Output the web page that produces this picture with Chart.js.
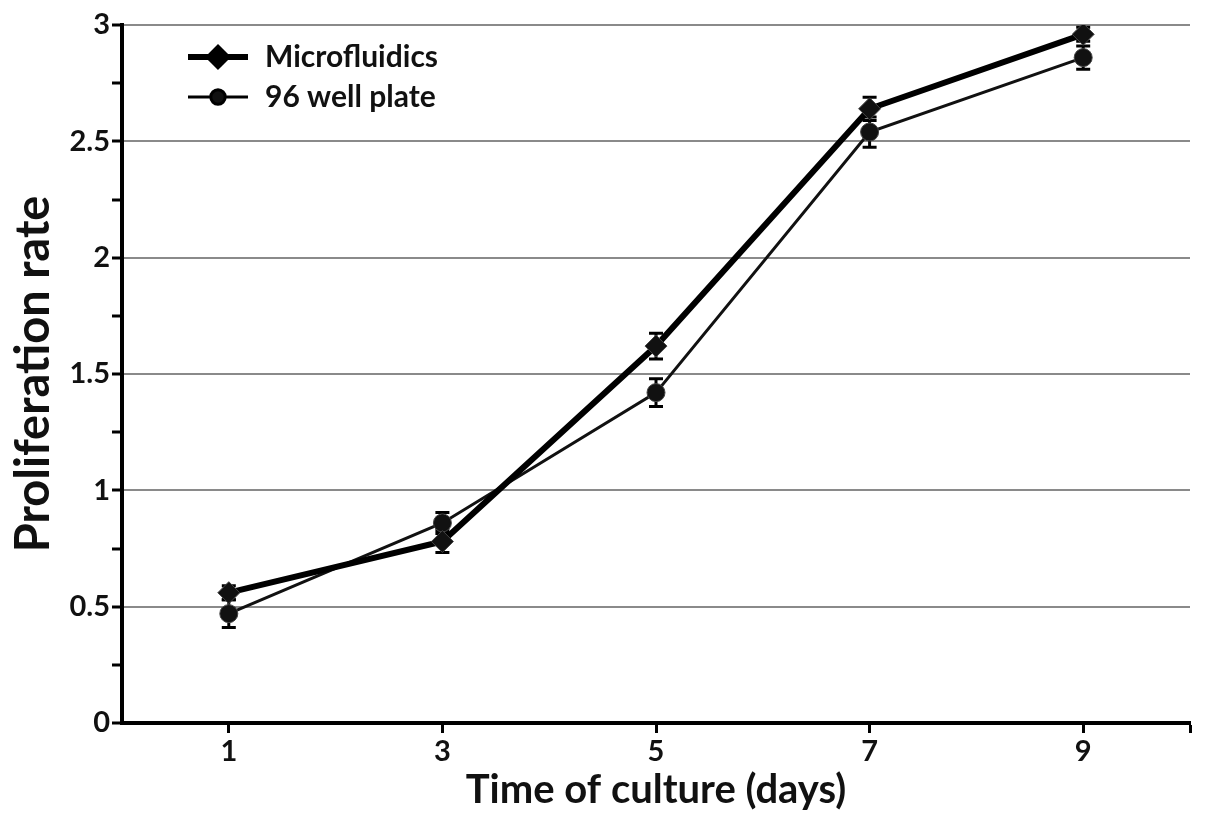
<!DOCTYPE html>
<html>
<head>
<meta charset="utf-8">
<script src="https://cdn.jsdelivr.net/npm/chart.js@4.4.0/dist/chart.umd.min.js"></script>
<style>
  html, body { margin: 0; padding: 0; background: #fff; }
  #wrap { width: 1205px; height: 820px; }
</style>
</head>
<body>
<div id="wrap"><canvas id="chart"></canvas></div>
<script>
var days = [1, 3, 5, 7, 9];
var xTicks = [1, 3, 5, 7, 9, 10];
var microValues = [0.56, 0.78, 1.62, 2.64, 2.96];
var microErrors = [0.03, 0.047, 0.055, 0.05, 0.03];
var wellValues = [0.47, 0.86, 1.42, 2.54, 2.86];
var wellErrors = [0.06, 0.045, 0.06, 0.065, 0.05];
var seriesNames = ['Microfluidics', '96 well plate'];

var FONT = 'Lato, "Open Sans", sans-serif';

function toPoints(values) {
    return days.map(function(d, i) { return { x: d, y: values[i] }; });
}

// error bars drawn under the markers
var errorBars = {
    id: 'errorBars',
    beforeDatasetsDraw: function(chart) {
        var ctx = chart.ctx;
        var xs = chart.scales.x, ys = chart.scales.y;
        ctx.save();
        ctx.strokeStyle = '#000';
        ctx.lineWidth = 3;
        chart.data.datasets.forEach(function(ds) {
            ds.errors.forEach(function(err, i) {
                var px = xs.getPixelForValue(ds.data[i].x);
                var top = ys.getPixelForValue(ds.data[i].y + err);
                var bot = ys.getPixelForValue(ds.data[i].y - err);
                ctx.beginPath();
                ctx.moveTo(px, top); ctx.lineTo(px, bot);
                ctx.moveTo(px - 7, top); ctx.lineTo(px + 7, top);
                ctx.moveTo(px - 7, bot); ctx.lineTo(px + 7, bot);
                ctx.stroke();
            });
        });
        ctx.restore();
    }
};

// legend inside the plot, top left
var insideLegend = {
    id: 'insideLegend',
    afterDraw: function(chart) {
        var ctx = chart.ctx;
        var x0 = chart.chartArea.left + 66;
        var y0 = chart.chartArea.top + 32;
        ctx.save();
        chart.data.datasets.forEach(function(ds, i) {
            var y = y0 + i * 40;
            ctx.strokeStyle = '#000';
            ctx.lineWidth = ds.borderWidth;
            ctx.beginPath();
            ctx.moveTo(x0, y); ctx.lineTo(x0 + 60, y);
            ctx.stroke();
            Chart.helpers.drawPoint(ctx, {
                pointStyle: ds.pointStyle,
                radius: ds.pointRadius * 0.8,
                borderWidth: 1
            }, x0 + 30, y);
            ctx.fillStyle = '#111';
            ctx.font = 'bold 30px ' + FONT;
            ctx.textBaseline = 'middle';
            ctx.fillText(ds.label, x0 + 77, y);
        });
        ctx.restore();
    }
};

var ctx = document.getElementById('chart').getContext('2d');
ctx.fillStyle = '#000';
new Chart(ctx, {
    type: 'line',
    data: {
        datasets: [
            {
                label: seriesNames[0],
                data: toPoints(microValues),
                errors: microErrors,
                borderColor: '#000',
                backgroundColor: '#000',
                borderWidth: 6,
                pointStyle: 'rectRot',
                pointRadius: 11,
                pointBackgroundColor: '#111',
                pointBorderColor: '#444',
                pointBorderWidth: 1
            },
            {
                label: seriesNames[1],
                data: toPoints(wellValues),
                errors: wellErrors,
                borderColor: '#111',
                backgroundColor: '#000',
                borderWidth: 3,
                pointStyle: 'circle',
                pointRadius: 9,
                pointBackgroundColor: '#111',
                pointBorderColor: '#444',
                pointBorderWidth: 1
            }
        ]
    },
    options: {
        responsive: true,
        maintainAspectRatio: false,
        animation: false,
        layout: { padding: { left: 0, right: 15, top: 25, bottom: 0 } },
        plugins: {
            legend: { display: false },
            tooltip: { enabled: false }
        },
        scales: {
            x: {
                type: 'linear',
                min: 0,
                max: 10,
                afterBuildTicks: function(scale) {
                    scale.ticks = xTicks.map(function(v) { return { value: v }; });
                },
                afterFit: function(scale) { scale.height = 97; },
                border: { display: true, color: '#000', width: 4 },
                grid: {
                    drawOnChartArea: false,
                    drawTicks: true,
                    tickLength: 10,
                    tickColor: '#000',
                    tickWidth: 3
                },
                ticks: {
                    padding: 1,
                    color: '#111',
                    font: { family: FONT, size: 29, weight: 'bold' },
                    callback: function(v) { return days.indexOf(v) >= 0 ? String(v) : ''; }
                },
                title: {
                    display: true,
                    text: 'Time of culture (days)',
                    color: '#111',
                    font: { family: FONT, size: 40, weight: 'bold' },
                    padding: { top: 0, bottom: 6 }
                }
            },
            y: {
                min: 0,
                max: 3,
                ticks: {
                    stepSize: 0.25,
                    padding: 2,
                    color: '#111',
                    font: { family: FONT, size: 29, weight: 'bold' },
                    callback: function(v) {
                        return (Math.round(v * 100) % 50 === 0) ? String(v) : '';
                    }
                },
                afterFit: function(scale) { scale.width = 122; },
                border: { display: true, color: '#000', width: 4 },
                grid: {
                    drawTicks: true,
                    tickLength: 10,
                    tickColor: '#000',
                    tickWidth: 3,
                    lineWidth: 2,
                    color: function(c) {
                        var v = c.tick ? c.tick.value : 0;
                        if (v === 0) return 'rgba(0,0,0,0)';
                        return (Math.round(v * 100) % 50 === 0) ? '#8a8a8a' : 'rgba(0,0,0,0)';
                    }
                },
                title: {
                    display: true,
                    text: 'Proliferation rate',
                    color: '#111',
                    font: { family: FONT, size: 47, weight: 'bold' },
                    padding: { top: 6, bottom: 0 }
                }
            }
        }
    },
    plugins: [errorBars, insideLegend]
});
</script>
</body>
</html>
